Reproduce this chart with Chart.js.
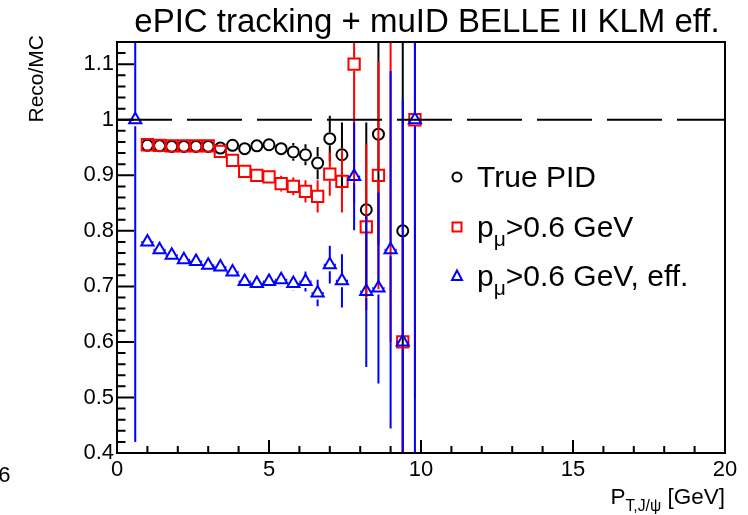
<!DOCTYPE html>
<html>
<head>
<meta charset="utf-8">
<title>ePIC tracking + muID BELLE II KLM eff.</title>
<script src="https://cdn.jsdelivr.net/npm/chart.js@4.4.1/dist/chart.umd.min.js"></script>
<style>
  html, body { margin: 0; padding: 0; background: #fff; }
  #wrap { width: 748px; height: 515px; }
</style>
</head>
<body>
<div id="wrap"><canvas id="myChartEff" width="748" height="515"></canvas></div>
<script>
// bin centres [GeV]
const ptBins = [0.6, 1.0, 1.4, 1.8, 2.2, 2.6, 3.0, 3.4, 3.8, 4.2, 4.6, 5.0, 5.4, 5.8, 6.2, 6.6, 7.0, 7.4, 7.8, 8.2, 8.6, 9.0, 9.4, 9.8]
const binHalfWidth = 0.2

const truePid    = [null, 0.954, 0.953, 0.952, 0.952, 0.952, 0.952, 0.949, 0.954, 0.948, 0.953, 0.955, 0.948, 0.942, 0.937, 0.922, 0.966, 0.937, null, 0.838, 0.974, null, 0.800, null]
const truePidErr = [null, 0.004, 0.004, 0.004, 0.004, 0.005, 0.005, 0.006, 0.007, 0.008, 0.009, 0.010, 0.012, 0.016, 0.019, 0.029, 0.041, 0.058, null, 0.157, 0.200, null, 0.450, null]

const ptCut      = [null, 0.955, 0.954, 0.953, 0.953, 0.953, 0.953, 0.943, 0.927, 0.907, 0.900, 0.897, 0.885, 0.880, 0.871, 0.862, 0.902, 0.889, 1.100, 0.807, 0.900, 1.200, 0.600, 1.000]
const ptCutErr   = [null, 0.004, 0.004, 0.004, 0.004, 0.005, 0.005, 0.006, 0.007, 0.008, 0.009, 0.010, 0.014, 0.016, 0.020, 0.029, 0.039, 0.056, 0.250, 0.150, 0.205, 0.600, 0.400, 0.500]

const ptCutEff    = [1.000, 0.780, 0.766, 0.756, 0.748, 0.745, 0.738, 0.735, 0.726, 0.709, 0.705, 0.709, 0.712, 0.705, 0.709, 0.688, 0.739, 0.710, 0.898, 0.691, 0.697, 0.766, 0.600, 1.000]
const ptCutEffErr = [0.580, 0.004, 0.004, 0.004, 0.004, 0.005, 0.005, 0.006, 0.007, 0.008, 0.008, 0.009, 0.012, 0.012, 0.018, 0.024, 0.034, 0.048, 0.097, 0.136, 0.172, 0.322, 0.437, 0.800]

const xTickLabels = [0, 5, 10, 15, 20]
const yTickLabels = [0.4, 0.5, 0.6, 0.7, 0.8, 0.9, 1.0, 1.1]
const refLine = 1.0

const FONT = "'Liberation Sans', Arial, Helvetica, sans-serif"
Chart.defaults.font.family = FONT
Chart.defaults.color = '#000'

function toPoints(vals, errs) {
    const pts = []
    ptBins.forEach((x, i) => {
        if (vals[i] !== null) pts.push({ x: x, y: vals[i], err: errs[i] })
    })
    return pts
}

// text with ROOT style subscripts: a_{b}
function drawRootText(ctx, text, x, y, size, align) {
    const parts = []
    const re = /_\{([^}]*)\}/g
    let last = 0, m
    while ((m = re.exec(text))) {
        if (m.index > last) parts.push({ t: text.slice(last, m.index), sub: false })
        parts.push({ t: m[1], sub: true })
        last = re.lastIndex
    }
    if (last < text.length) parts.push({ t: text.slice(last), sub: false })
    let w = 0
    parts.forEach(p => {
        ctx.font = (p.sub ? size * 0.7 : size) + 'px ' + FONT
        p.w = ctx.measureText(p.t).width
        w += p.w
    })
    let cx = align === 'right' ? x - w : (align === 'center' ? x - w / 2 : x)
    ctx.textAlign = 'left'
    ctx.textBaseline = 'alphabetic'
    parts.forEach(p => {
        ctx.font = (p.sub ? size * 0.7 : size) + 'px ' + FONT
        ctx.fillText(p.t, cx, p.sub ? y + size * 0.3 : y)
        cx += p.w
    })
}

function drawMarker(ctx, style, x, y, r) {
    ctx.beginPath()
    if (style === 'circle') {
        ctx.arc(x, y, r, 0, Math.PI * 2)
    } else if (style === 'rect') {
        ctx.rect(x - r, y - r, 2 * r, 2 * r)
    } else {
        ctx.moveTo(x, y - r * 1.1)
        ctx.lineTo(x + r, y + r * 0.8)
        ctx.lineTo(x - r, y + r * 0.8)
        ctx.closePath()
    }
    ctx.stroke()
}

const errorBars = {
    id: 'errorBars',
    beforeDatasetDraw(chart, args) {
        const { ctx, chartArea, scales } = chart
        const ds = chart.data.datasets[args.index]
        const gap = ds.markerGap
        ctx.save()
        ctx.beginPath()
        ctx.rect(chartArea.left, chartArea.top, chartArea.right - chartArea.left, chartArea.bottom - chartArea.top)
        ctx.clip()
        ctx.strokeStyle = ds.borderColor
        ctx.lineWidth = 2
        ds.data.forEach(p => {
            const px = scales.x.getPixelForValue(p.x)
            const py = scales.y.getPixelForValue(p.y)
            const top = scales.y.getPixelForValue(p.y + p.err)
            const bot = scales.y.getPixelForValue(p.y - p.err)
            const left = scales.x.getPixelForValue(p.x - binHalfWidth)
            const right = scales.x.getPixelForValue(p.x + binHalfWidth)
            ctx.beginPath()
            if (top < py - gap) { ctx.moveTo(px, top); ctx.lineTo(px, py - gap) }
            if (bot > py + gap) { ctx.moveTo(px, py + gap); ctx.lineTo(px, bot) }
            if (left < px - ds.markerHalfW) {
                ctx.moveTo(left, py); ctx.lineTo(px - ds.markerHalfW, py)
                ctx.moveTo(px + ds.markerHalfW, py); ctx.lineTo(right, py)
            }
            ctx.stroke()
        })
        ctx.restore()
    }
}

const rootFrame = {
    id: 'rootFrame',
    afterDatasetsDraw(chart) {
        const { ctx, chartArea, scales } = chart
        const { left, right, top, bottom } = chartArea
        ctx.save()
        // dashed reference line
        ctx.strokeStyle = '#000'
        ctx.lineWidth = 2
        ctx.setLineDash([55, 15])
        const yRef = scales.y.getPixelForValue(refLine)
        ctx.beginPath()
        ctx.moveTo(left, yRef)
        ctx.lineTo(right, yRef)
        ctx.stroke()
        ctx.setLineDash([])

        // frame
        ctx.strokeRect(left, top, right - left, bottom - top)

        // ticks inside the frame
        ctx.beginPath()
        for (let v = 0; v <= 20.001; v += 1) {
            const px = scales.x.getPixelForValue(v)
            const len = Math.abs(v % 5) < 1e-6 ? 13 : 7
            ctx.moveTo(px, bottom)
            ctx.lineTo(px, bottom - len)
        }
        for (let k = 0; k <= 37; k++) {
            const v = 0.4 + k * 0.02
            if (v > scales.y.max + 1e-6) break
            const py = scales.y.getPixelForValue(v)
            const len = k % 5 === 0 ? 17 : 8.5
            ctx.moveTo(left, py)
            ctx.lineTo(left + len, py)
        }
        ctx.stroke()

        // legend
        const rows = [177, 227, 276]
        chart.data.datasets.forEach((ds, i) => {
            ctx.strokeStyle = ds.borderColor
            ctx.lineWidth = 2
            drawMarker(ctx, ds.pointStyle, 457, rows[i], ds.legendR)
            ctx.fillStyle = '#000'
            drawRootText(ctx, ds.label, 477, rows[i] + 10, 30, 'left')
        })

        // titles
        ctx.fillStyle = '#000'
        ctx.font = '33px ' + FONT
        ctx.textAlign = 'center'
        ctx.textBaseline = 'alphabetic'
        ctx.fillText('ePIC tracking + muID BELLE II KLM eff.', 427, 32)

        drawRootText(ctx, 'P_{T,J/ψ} [GeV]', 725, 504, 22.5, 'right')

        ctx.save()
        ctx.translate(43, 35)
        ctx.rotate(-Math.PI / 2)
        ctx.font = '21px ' + FONT
        ctx.textAlign = 'right'
        ctx.fillText('Reco/MC', 0, 0)
        ctx.restore()

        ctx.font = '22px ' + FONT
        ctx.textAlign = 'right'
        ctx.fillText('6', 10.5, 482)
        ctx.restore()
    }
}

const ctx = document.getElementById('myChartEff')
const myChartEff = new Chart(ctx, {
    type: 'scatter',
    data: {
        datasets: [{
            label: 'True PID',
            data: toPoints(truePid, truePidErr),
            pointStyle: 'circle',
            pointRadius: 5.5,
            pointBorderWidth: 2,
            borderColor: '#000000',
            backgroundColor: 'rgba(0,0,0,0)',
            markerGap: 6.5,
            markerHalfW: 6.5,
            legendR: 4.5,
            order: 3
        }, {
            label: 'p_{μ}>0.6 GeV',
            data: toPoints(ptCut, ptCutErr),
            pointStyle: 'rect',
            pointRadius: 8,
            pointBorderWidth: 2,
            borderColor: '#ff0000',
            backgroundColor: 'rgba(0,0,0,0)',
            markerGap: 6.5,
            markerHalfW: 6.5,
            legendR: 4.5,
            order: 2
        }, {
            label: 'p_{μ}>0.6 GeV, eff.',
            data: toPoints(ptCutEff, ptCutEffErr),
            pointStyle: 'triangle',
            pointRadius: 7,
            pointBorderWidth: 2,
            borderColor: '#0000ff',
            backgroundColor: 'rgba(0,0,0,0)',
            markerGap: 6.5,
            markerHalfW: 5,
            legendR: 5,
            order: 1
        }]
    },
    options: {
        responsive: false,
        animation: false,
        devicePixelRatio: 1,
        layout: { padding: { top: 42, right: 23, left: 0, bottom: 0 } },
        plugins: {
            legend: { display: false },
            tooltip: { enabled: false },
            title: { display: false }
        },
        scales: {
            x: {
                type: 'linear',
                min: 0,
                max: 20,
                grid: { display: false, drawTicks: false },
                border: { display: false },
                afterBuildTicks: s => { s.ticks = xTickLabels.map(v => ({ value: v })) },
                afterFit: s => { s.height = 62 },
                ticks: {
                    font: { size: 22 },
                    color: '#000',
                    padding: 4,
                    maxRotation: 0,
                    autoSkip: false,
                    callback: v => String(v)
                }
            },
            y: {
                type: 'linear',
                min: 0.4,
                max: 1.14,
                grid: { display: false, drawTicks: false },
                border: { display: false },
                afterBuildTicks: s => { s.ticks = yTickLabels.map(v => ({ value: v })) },
                afterFit: s => { s.width = 117 },
                ticks: {
                    font: { size: 22 },
                    color: '#000',
                    padding: 3,
                    autoSkip: false,
                    callback: v => String(Math.round(v * 10) / 10)
                }
            }
        }
    },
    plugins: [errorBars, rootFrame]
});
</script>
</body>
</html>
